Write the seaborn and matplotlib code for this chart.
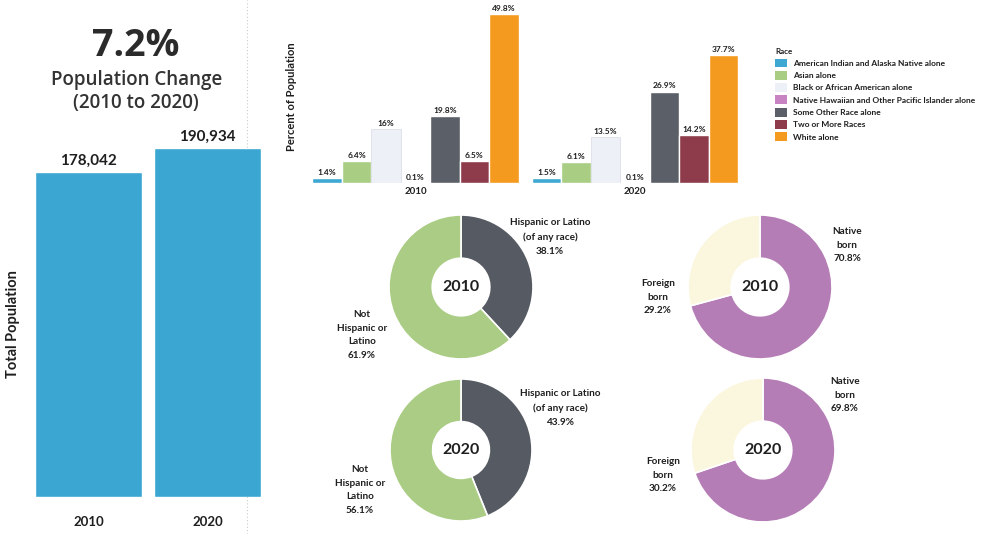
import numpy as np
import pandas as pd
import matplotlib
matplotlib.use("Agg")
import matplotlib.pyplot as plt
from matplotlib.patches import Patch
from matplotlib.lines import Line2D
import seaborn as sns

# ---- data ----
years = ["2010", "2020"]
total_population = [178042, 190934]
pct_change_label = "7.2%"

races = [
    "American Indian and Alaska Native alone",
    "Asian alone",
    "Black or African American alone",
    "Native Hawaiian and Other Pacific Islander alone",
    "Some Other Race alone",
    "Two or More Races",
    "White alone",
]
race_pct_2010 = [1.4, 6.4, 16, 0.1, 19.8, 6.5, 49.8]
race_pct_2020 = [1.5, 6.1, 13.5, 0.1, 26.9, 14.2, 37.7]
race_colors = ["#3ea7d2", "#a9cd83", "#eef0f8", "#c884c2", "#5b6068", "#8e3b4b", "#f49a1f"]

hispanic_labels = ["Hispanic or Latino\n(of any race)", "Not\nHispanic or\nLatino"]
hispanic_2010 = [38.1, 61.9]
hispanic_2020 = [43.9, 56.1]
hispanic_colors = ["#565b63", "#aacc84"]

nativity_labels = ["Native\nborn", "Foreign\nborn"]
nativity_2010 = [70.8, 29.2]
nativity_2020 = [69.8, 30.2]
nativity_colors = ["#b57db6", "#fbf7de"]

# ---- style ----
sns.set_theme(style="white")
plt.rcParams["font.family"] = ["Lato", "DejaVu Sans"]
TXT = "#1f1f1f"

W, H = 982, 534
fig = plt.figure(figsize=(W / 100, H / 100), dpi=100)
fig.patch.set_facecolor("white")


def px_axes(left, top, width, height):
    return fig.add_axes([left / W, 1 - (top + height) / H, width / W, height / H])


def fig_text(x, y, s, **kw):
    return fig.text(x / W, 1 - y / H, s, **kw)


# faint dotted divider
fig.add_artist(Line2D([247 / W, 247 / W], [0, 1], transform=fig.transFigure,
                      color="#c9c9c9", lw=0.8, ls=(0, (1, 2)), zorder=-5))

# ---- total population bars ----
ax1 = px_axes(29, 131.4, 238, 365.6)
ax1.patch.set_alpha(0)
sns.barplot(x=years, y=total_population, color="#3ba6d1", saturation=1,
            width=0.9, ax=ax1)
ax1.set_xlim(-0.5, 1.5)
ax1.set_ylim(0, 200000)
ax1.set_yticks([])
for s in ax1.spines.values():
    s.set_visible(False)
ax1.tick_params(axis="x", length=0, pad=14, labelsize=9.5, labelcolor=TXT)
for t in ax1.get_xticklabels():
    t.set_fontweight("bold")
ax1.bar_label(ax1.containers[0], labels=[f"{v:,}" for v in total_population],
              padding=3, fontsize=11, fontweight="bold", color=TXT)
ax1.set_ylabel("Total Population", fontsize=10.5, fontweight="bold", color=TXT)
ax1.yaxis.set_label_coords(-0.038, 0.473)

fig_text(136, 46, pct_change_label, ha="center", va="center", fontsize=27,
         fontweight="bold", color="#2b2b2b", family=["Open Sans", "DejaVu Sans"])
fig_text(137, 80, "Population Change", ha="center", va="center", fontsize=13.5,
         fontweight="semibold", color="#333333", family=["Open Sans", "DejaVu Sans"])
fig_text(136, 103, "(2010 to 2020)", ha="center", va="center", fontsize=13.5,
         fontweight="semibold", color="#333333", family=["Open Sans", "DejaVu Sans"])

# ---- race bars ----
race_df = pd.DataFrame({
    "Year": [y for y in years for _ in races],
    "Race": races * 2,
    "Pct": race_pct_2010 + race_pct_2020,
})
ax2 = px_axes(305.75, 6.2, 439, 176.8)
ax2.patch.set_alpha(0)
sns.barplot(data=race_df, x="Year", y="Pct", hue="Race", hue_order=races,
            palette=race_colors, saturation=1, width=0.94, edgecolor="white",
            linewidth=1, legend=False, ax=ax2)
ax2.set_xlim(-0.5, 1.5)
ax2.set_ylim(0, 52)
ax2.set_yticks([])
ax2.set_xlabel("")
for s in ax2.spines.values():
    s.set_visible(False)
ax2.tick_params(axis="x", length=0, pad=3, labelsize=7, labelcolor=TXT)
for t in ax2.get_xticklabels():
    t.set_fontweight("bold")
for i, cont in enumerate(ax2.containers):
    vals = (race_pct_2010[i], race_pct_2020[i])
    ax2.bar_label(cont, labels=[f"{v:g}%" for v in vals], padding=1.5,
                  fontsize=6, fontweight="bold", color=TXT)
    if races[i].startswith("Black"):
        for b in cont:
            b.set_edgecolor("#dde0ea")
            b.set_linewidth(0.6)
ax2.set_ylabel("Percent of Population", fontsize=8, fontweight="bold", color=TXT)
ax2.yaxis.set_label_coords(-0.02, 0.486)

handles = [Patch(facecolor=c, edgecolor="none") for c in race_colors]
leg = fig.legend(handles, races, loc="upper left",
                 bbox_to_anchor=(775 / W, 1 - 48 / H), frameon=False,
                 title="Race", alignment="left", fontsize=6,
                 title_fontproperties={"weight": "bold", "size": 5.8},
                 handlelength=1.45, handleheight=1.25, handletextpad=0.75,
                 labelspacing=0.42, borderpad=0, borderaxespad=0)
for t in leg.get_texts():
    t.set_fontweight("bold")
    t.set_color(TXT)
leg.get_title().set_color(TXT)


# ---- donuts ----
def donut(cx, cy, r, values, colors, year):
    ax = px_axes(cx - r, cy - r, 2 * r, 2 * r)
    ax.pie(values, colors=colors, startangle=90, counterclock=False, radius=1,
           wedgeprops=dict(width=0.6, edgecolor="white", linewidth=1.2))
    ax.set_xlim(-1.0, 1.0)
    ax.set_ylim(-1.0, 1.0)
    ax.set_aspect("equal")
    ax.text(0, 0, year, ha="center", va="center", fontsize=11.5,
            fontweight="bold", color=TXT)
    return ax


def donut_label(x, y, name, value):
    fig_text(x, y, f"{name}\n{value:.1f}%", ha="center", va="center",
             fontsize=7.2, fontweight="bold", color=TXT, linespacing=1.7)


donut(461, 287, 72, hispanic_2010, hispanic_colors, years[0])
donut(461, 450, 71, hispanic_2020, hispanic_colors, years[1])
donut(760, 287, 72, nativity_2010, nativity_colors, years[0])
donut(763, 450, 72, nativity_2020, nativity_colors, years[1])

donut_label(550, 237, hispanic_labels[0], hispanic_2010[0])
donut_label(362, 335, hispanic_labels[1], hispanic_2010[1])
donut_label(560, 408, hispanic_labels[0], hispanic_2020[0])
donut_label(360, 490, hispanic_labels[1], hispanic_2020[1])

donut_label(847, 245, nativity_labels[0], nativity_2010[0])
donut_label(658, 297, nativity_labels[1], nativity_2010[1])
donut_label(845, 395, nativity_labels[0], nativity_2020[0])
donut_label(663, 475, nativity_labels[1], nativity_2020[1])

fig.savefig("out.png", dpi=100, facecolor="white")
